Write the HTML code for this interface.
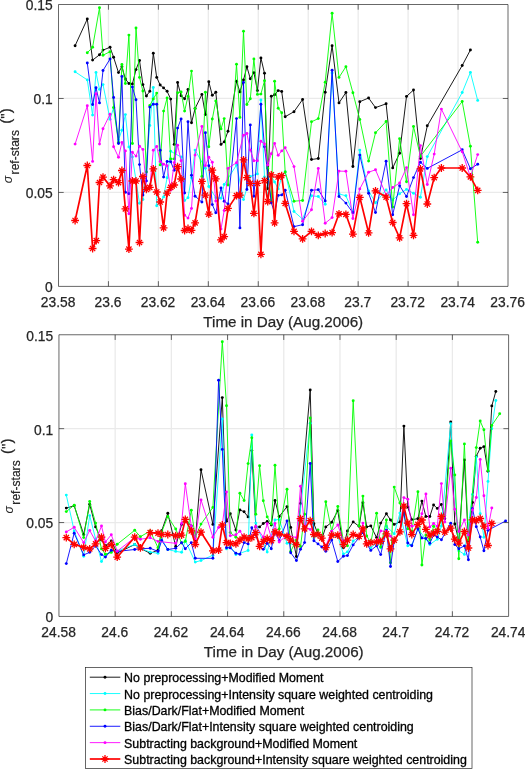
<!DOCTYPE html>
<html><head><meta charset="utf-8"><title>Centroiding precision</title>
<style>html,body{margin:0;padding:0;background:#fff}svg{display:block}</style></head>
<body><svg width="525" height="769" viewBox="0 0 525 769">
<rect width="525" height="769" fill="#fff"/>
<path d="M108.44 4.5V286.4M158.39 4.5V286.4M208.33 4.5V286.4M258.28 4.5V286.4M308.22 4.5V286.4M358.16 4.5V286.4M408.11 4.5V286.4M458.05 4.5V286.4M58.5 192.43H508M58.5 98.47H508" stroke="#eaeaea" stroke-width="1.3" fill="none"/>
<clipPath id="c1"><rect x="58.5" y="4.5" width="449.5" height="281.9"/></clipPath>
<g clip-path="url(#c1)">
<path d="M75.1 45.7L87.3 19L92.6 60.1L99.5 54.8L103 50.1L110.05 47.3L113.6 57.3L118.5 72.6L121.9 66.7L125.4 79L128.9 83.5L132.4 84L136 69.6L139.5 60.5L142.9 84.6L146.4 96L149.8 91.3L153.3 53.2L156.7 77.4L160.2 85L163.6 87.9L167.1 91.3L170.7 99.1L174.2 144.4L177.6 82.5L181.1 95.7L184.6 98.8L188 89.4L191.5 122.8L195.1 108.5L201.9 94.4L205.4 114.6L208.8 81.8L212.3 95.3L215.8 92.3L221 144.4L224.2 141.9L228 131.2L236.5 81.2L239.9 91.9L243.5 80L246.9 66.7L250.3 78.7L253.9 72.6L257.4 90.6L260.9 57.9L264.5 73.3L267.7 188.8L271.3 96.3L274.6 94.8L278.2 90.6L281.7 91.5L285.2 116.7L294 111.7L302.6 99.5L311.5 159.5L318.3 158.5L325.2 92.3L332.1 45.7L339 102.9L345.9 92.5L352.9 166.5L359.8 101.7L368.6 98L375.5 107.6L386.1 103.8L392.7 167.9L399.6 153.2L406.5 96.4L413.5 90L420.4 158.5L427.3 125.8L462.2 65.5L470.4 50" fill="none" stroke="#000000" stroke-width="0.9" stroke-linejoin="round"/>
<g fill="#000000"><circle cx="75.1" cy="45.7" r="1.45"/><circle cx="87.3" cy="19" r="1.45"/><circle cx="92.6" cy="60.1" r="1.45"/><circle cx="99.5" cy="54.8" r="1.45"/><circle cx="103" cy="50.1" r="1.45"/><circle cx="110.05" cy="47.3" r="1.45"/><circle cx="113.6" cy="57.3" r="1.45"/><circle cx="118.5" cy="72.6" r="1.45"/><circle cx="121.9" cy="66.7" r="1.45"/><circle cx="125.4" cy="79" r="1.45"/><circle cx="128.9" cy="83.5" r="1.45"/><circle cx="132.4" cy="84" r="1.45"/><circle cx="136" cy="69.6" r="1.45"/><circle cx="139.5" cy="60.5" r="1.45"/><circle cx="142.9" cy="84.6" r="1.45"/><circle cx="146.4" cy="96" r="1.45"/><circle cx="149.8" cy="91.3" r="1.45"/><circle cx="153.3" cy="53.2" r="1.45"/><circle cx="156.7" cy="77.4" r="1.45"/><circle cx="160.2" cy="85" r="1.45"/><circle cx="163.6" cy="87.9" r="1.45"/><circle cx="167.1" cy="91.3" r="1.45"/><circle cx="170.7" cy="99.1" r="1.45"/><circle cx="174.2" cy="144.4" r="1.45"/><circle cx="177.6" cy="82.5" r="1.45"/><circle cx="181.1" cy="95.7" r="1.45"/><circle cx="184.6" cy="98.8" r="1.45"/><circle cx="188" cy="89.4" r="1.45"/><circle cx="191.5" cy="122.8" r="1.45"/><circle cx="195.1" cy="108.5" r="1.45"/><circle cx="201.9" cy="94.4" r="1.45"/><circle cx="205.4" cy="114.6" r="1.45"/><circle cx="208.8" cy="81.8" r="1.45"/><circle cx="212.3" cy="95.3" r="1.45"/><circle cx="215.8" cy="92.3" r="1.45"/><circle cx="221" cy="144.4" r="1.45"/><circle cx="224.2" cy="141.9" r="1.45"/><circle cx="228" cy="131.2" r="1.45"/><circle cx="236.5" cy="81.2" r="1.45"/><circle cx="239.9" cy="91.9" r="1.45"/><circle cx="243.5" cy="80" r="1.45"/><circle cx="246.9" cy="66.7" r="1.45"/><circle cx="250.3" cy="78.7" r="1.45"/><circle cx="253.9" cy="72.6" r="1.45"/><circle cx="257.4" cy="90.6" r="1.45"/><circle cx="260.9" cy="57.9" r="1.45"/><circle cx="264.5" cy="73.3" r="1.45"/><circle cx="267.7" cy="188.8" r="1.45"/><circle cx="271.3" cy="96.3" r="1.45"/><circle cx="274.6" cy="94.8" r="1.45"/><circle cx="278.2" cy="90.6" r="1.45"/><circle cx="281.7" cy="91.5" r="1.45"/><circle cx="285.2" cy="116.7" r="1.45"/><circle cx="294" cy="111.7" r="1.45"/><circle cx="302.6" cy="99.5" r="1.45"/><circle cx="311.5" cy="159.5" r="1.45"/><circle cx="318.3" cy="158.5" r="1.45"/><circle cx="325.2" cy="92.3" r="1.45"/><circle cx="332.1" cy="45.7" r="1.45"/><circle cx="339" cy="102.9" r="1.45"/><circle cx="345.9" cy="92.5" r="1.45"/><circle cx="352.9" cy="166.5" r="1.45"/><circle cx="359.8" cy="101.7" r="1.45"/><circle cx="368.6" cy="98" r="1.45"/><circle cx="375.5" cy="107.6" r="1.45"/><circle cx="386.1" cy="103.8" r="1.45"/><circle cx="392.7" cy="167.9" r="1.45"/><circle cx="399.6" cy="153.2" r="1.45"/><circle cx="406.5" cy="96.4" r="1.45"/><circle cx="413.5" cy="90" r="1.45"/><circle cx="420.4" cy="158.5" r="1.45"/><circle cx="427.3" cy="125.8" r="1.45"/><circle cx="462.2" cy="65.5" r="1.45"/><circle cx="470.4" cy="50" r="1.45"/></g>
<path d="M75.1 71.8L87.3 79.9L92.6 115.1L96 72.4L99.5 89.4L103 84.6L110.05 119.3L113.6 107.6L118.5 140L121.9 130.2L125.4 114.6L128.9 146.9L132.4 157L139.5 203.3L142.9 199.5L149.8 125.5L153.3 87.5L156.7 205.8L163.6 197L167.1 177.7L170.7 151.3L181.1 157L184.6 200.5L188 197.7L191.5 177.7L195.1 150.1L205.4 168.3L208.8 186.5L215.8 197.7L221 198.3L224.2 184.5L236.5 165.1L243.5 199.6L250.3 176.5L257.4 173.9L260.9 100L264.5 177L267.7 196L271.3 176L274.6 182L278.2 188.9L281.7 177L285.2 172L294 211.5L302.6 219.1L311.5 195.8L318.3 196.5L325.2 204.2L332.1 73L339 193.9L345.9 195.8L352.9 212L359.8 150.1L368.6 190.9L375.5 202.7L386.1 189.9L392.7 200L399.6 193.7L406.5 189.4L413.5 193.3L420.4 197.3L427.3 156.6L462.2 92.5L470.4 72.4L477.7 100.4" fill="none" stroke="#00ffff" stroke-width="0.9" stroke-linejoin="round"/>
<g fill="#00ffff"><circle cx="75.1" cy="71.8" r="1.45"/><circle cx="87.3" cy="79.9" r="1.45"/><circle cx="92.6" cy="115.1" r="1.45"/><circle cx="96" cy="72.4" r="1.45"/><circle cx="99.5" cy="89.4" r="1.45"/><circle cx="103" cy="84.6" r="1.45"/><circle cx="110.05" cy="119.3" r="1.45"/><circle cx="113.6" cy="107.6" r="1.45"/><circle cx="118.5" cy="140" r="1.45"/><circle cx="121.9" cy="130.2" r="1.45"/><circle cx="125.4" cy="114.6" r="1.45"/><circle cx="128.9" cy="146.9" r="1.45"/><circle cx="132.4" cy="157" r="1.45"/><circle cx="139.5" cy="203.3" r="1.45"/><circle cx="142.9" cy="199.5" r="1.45"/><circle cx="149.8" cy="125.5" r="1.45"/><circle cx="153.3" cy="87.5" r="1.45"/><circle cx="156.7" cy="205.8" r="1.45"/><circle cx="163.6" cy="197" r="1.45"/><circle cx="167.1" cy="177.7" r="1.45"/><circle cx="170.7" cy="151.3" r="1.45"/><circle cx="181.1" cy="157" r="1.45"/><circle cx="184.6" cy="200.5" r="1.45"/><circle cx="188" cy="197.7" r="1.45"/><circle cx="191.5" cy="177.7" r="1.45"/><circle cx="195.1" cy="150.1" r="1.45"/><circle cx="205.4" cy="168.3" r="1.45"/><circle cx="208.8" cy="186.5" r="1.45"/><circle cx="215.8" cy="197.7" r="1.45"/><circle cx="221" cy="198.3" r="1.45"/><circle cx="224.2" cy="184.5" r="1.45"/><circle cx="236.5" cy="165.1" r="1.45"/><circle cx="243.5" cy="199.6" r="1.45"/><circle cx="250.3" cy="176.5" r="1.45"/><circle cx="257.4" cy="173.9" r="1.45"/><circle cx="260.9" cy="100" r="1.45"/><circle cx="264.5" cy="177" r="1.45"/><circle cx="267.7" cy="196" r="1.45"/><circle cx="271.3" cy="176" r="1.45"/><circle cx="274.6" cy="182" r="1.45"/><circle cx="278.2" cy="188.9" r="1.45"/><circle cx="281.7" cy="177" r="1.45"/><circle cx="285.2" cy="172" r="1.45"/><circle cx="294" cy="211.5" r="1.45"/><circle cx="302.6" cy="219.1" r="1.45"/><circle cx="311.5" cy="195.8" r="1.45"/><circle cx="318.3" cy="196.5" r="1.45"/><circle cx="325.2" cy="204.2" r="1.45"/><circle cx="332.1" cy="73" r="1.45"/><circle cx="339" cy="193.9" r="1.45"/><circle cx="345.9" cy="195.8" r="1.45"/><circle cx="352.9" cy="212" r="1.45"/><circle cx="359.8" cy="150.1" r="1.45"/><circle cx="368.6" cy="190.9" r="1.45"/><circle cx="375.5" cy="202.7" r="1.45"/><circle cx="386.1" cy="189.9" r="1.45"/><circle cx="392.7" cy="200" r="1.45"/><circle cx="399.6" cy="193.7" r="1.45"/><circle cx="406.5" cy="189.4" r="1.45"/><circle cx="413.5" cy="193.3" r="1.45"/><circle cx="420.4" cy="197.3" r="1.45"/><circle cx="427.3" cy="156.6" r="1.45"/><circle cx="462.2" cy="92.5" r="1.45"/><circle cx="470.4" cy="72.4" r="1.45"/><circle cx="477.7" cy="100.4" r="1.45"/></g>
<path d="M87.3 52.7L92.6 47.3L99.5 7.7L103 55.2L110.05 51.7L113.6 107.6L118.5 142.3L121.9 64.5L125.4 83.5L128.9 35.1L132.4 143.5L136 28L139.5 77.4L142.9 91L146.4 172L149.8 105.4L153.3 99L156.7 93.1L160.2 164.9L163.6 111.1L167.1 98L170.7 158.9L174.2 158.9L177.6 92.8L181.1 91.9L184.6 111.1L188 96.4L191.5 71.1L195.1 108.6L201.9 176.4L205.4 92.3L208.8 146.7L212.3 119L215.8 101L221 128.9L224.2 118.6L228 185L236.5 64.2L239.9 117.4L243.5 31.2L246.9 104.5L250.3 98.8L253.9 58.9L257.4 94.4L260.9 94.1L264.5 80.8L267.7 168.3L271.3 201.5L274.6 81.2L278.2 108.3L281.7 112.7L285.2 171.9L294 201.2L302.6 200.5L311.5 121.8L318.3 118.6L325.2 82.2L332.1 13.3L339 77.4L345.9 66.7L352.9 92.8L359.8 119.5L368.6 161.1L375.5 132.8L386.1 121.5L392.7 207.1L399.6 138.7L406.5 181.7L413.5 126.5L420.4 156.3L462.2 101.5L470.4 146.3L477.7 242.3" fill="none" stroke="#00ff00" stroke-width="0.9" stroke-linejoin="round"/>
<g fill="#00ff00"><circle cx="87.3" cy="52.7" r="1.45"/><circle cx="92.6" cy="47.3" r="1.45"/><circle cx="99.5" cy="7.7" r="1.45"/><circle cx="103" cy="55.2" r="1.45"/><circle cx="110.05" cy="51.7" r="1.45"/><circle cx="113.6" cy="107.6" r="1.45"/><circle cx="118.5" cy="142.3" r="1.45"/><circle cx="121.9" cy="64.5" r="1.45"/><circle cx="125.4" cy="83.5" r="1.45"/><circle cx="128.9" cy="35.1" r="1.45"/><circle cx="132.4" cy="143.5" r="1.45"/><circle cx="136" cy="28" r="1.45"/><circle cx="139.5" cy="77.4" r="1.45"/><circle cx="142.9" cy="91" r="1.45"/><circle cx="146.4" cy="172" r="1.45"/><circle cx="149.8" cy="105.4" r="1.45"/><circle cx="153.3" cy="99" r="1.45"/><circle cx="156.7" cy="93.1" r="1.45"/><circle cx="160.2" cy="164.9" r="1.45"/><circle cx="163.6" cy="111.1" r="1.45"/><circle cx="167.1" cy="98" r="1.45"/><circle cx="170.7" cy="158.9" r="1.45"/><circle cx="174.2" cy="158.9" r="1.45"/><circle cx="177.6" cy="92.8" r="1.45"/><circle cx="181.1" cy="91.9" r="1.45"/><circle cx="184.6" cy="111.1" r="1.45"/><circle cx="188" cy="96.4" r="1.45"/><circle cx="191.5" cy="71.1" r="1.45"/><circle cx="195.1" cy="108.6" r="1.45"/><circle cx="201.9" cy="176.4" r="1.45"/><circle cx="205.4" cy="92.3" r="1.45"/><circle cx="208.8" cy="146.7" r="1.45"/><circle cx="212.3" cy="119" r="1.45"/><circle cx="215.8" cy="101" r="1.45"/><circle cx="221" cy="128.9" r="1.45"/><circle cx="224.2" cy="118.6" r="1.45"/><circle cx="228" cy="185" r="1.45"/><circle cx="236.5" cy="64.2" r="1.45"/><circle cx="239.9" cy="117.4" r="1.45"/><circle cx="243.5" cy="31.2" r="1.45"/><circle cx="246.9" cy="104.5" r="1.45"/><circle cx="250.3" cy="98.8" r="1.45"/><circle cx="253.9" cy="58.9" r="1.45"/><circle cx="257.4" cy="94.4" r="1.45"/><circle cx="260.9" cy="94.1" r="1.45"/><circle cx="264.5" cy="80.8" r="1.45"/><circle cx="267.7" cy="168.3" r="1.45"/><circle cx="271.3" cy="201.5" r="1.45"/><circle cx="274.6" cy="81.2" r="1.45"/><circle cx="278.2" cy="108.3" r="1.45"/><circle cx="281.7" cy="112.7" r="1.45"/><circle cx="285.2" cy="171.9" r="1.45"/><circle cx="294" cy="201.2" r="1.45"/><circle cx="302.6" cy="200.5" r="1.45"/><circle cx="311.5" cy="121.8" r="1.45"/><circle cx="318.3" cy="118.6" r="1.45"/><circle cx="325.2" cy="82.2" r="1.45"/><circle cx="332.1" cy="13.3" r="1.45"/><circle cx="339" cy="77.4" r="1.45"/><circle cx="345.9" cy="66.7" r="1.45"/><circle cx="352.9" cy="92.8" r="1.45"/><circle cx="359.8" cy="119.5" r="1.45"/><circle cx="368.6" cy="161.1" r="1.45"/><circle cx="375.5" cy="132.8" r="1.45"/><circle cx="386.1" cy="121.5" r="1.45"/><circle cx="392.7" cy="207.1" r="1.45"/><circle cx="399.6" cy="138.7" r="1.45"/><circle cx="406.5" cy="181.7" r="1.45"/><circle cx="413.5" cy="126.5" r="1.45"/><circle cx="420.4" cy="156.3" r="1.45"/><circle cx="462.2" cy="101.5" r="1.45"/><circle cx="470.4" cy="146.3" r="1.45"/><circle cx="477.7" cy="242.3" r="1.45"/></g>
<path d="M87.3 63L92.6 104.5L96 87.7L99.5 102.9L103 70.5L110.05 58.9L113.6 97.5L118.5 143.5L121.9 76.4L125.4 192.2L128.9 193.8L132.4 86.9L136 99.8L139.5 164.6L142.9 195.1L146.4 180.9L149.8 107.1L153.3 104.2L156.7 104.2L160.2 150.2L163.6 177.1L167.1 161.5L170.7 161.7L174.2 170.2L177.6 128.1L181.1 118.9L184.6 193L188 121.8L191.5 175.2L195.1 196.2L201.9 202.1L205.4 132.7L208.8 165.8L212.3 204.6L215.8 212.8L221 187.9L224.2 201.2L228 204L236.5 118.6L239.9 227.9L243.5 82.5L246.9 189.5L250.3 124.9L253.9 196.2L260.9 104.2L264.5 146.7L271.3 202.7L274.6 213L278.2 195.4L281.7 194.9L285.2 190.2L294 226.6L302.6 224.7L311.5 190.2L318.3 189.8L325.2 200.9L332.1 70.3L339 196.5L345.9 203.1L352.9 212.8L359.8 155.1L368.6 193.3L375.5 212.5L386.1 161.2L392.7 214.7L399.6 185.7L406.5 196.5L413.5 177.6L420.4 162.3L427.3 168.4L462.2 149.8L470.4 168.7L477.7 164.2" fill="none" stroke="#0000ff" stroke-width="0.9" stroke-linejoin="round"/>
<g fill="#0000ff"><circle cx="87.3" cy="63" r="1.45"/><circle cx="92.6" cy="104.5" r="1.45"/><circle cx="96" cy="87.7" r="1.45"/><circle cx="99.5" cy="102.9" r="1.45"/><circle cx="103" cy="70.5" r="1.45"/><circle cx="110.05" cy="58.9" r="1.45"/><circle cx="113.6" cy="97.5" r="1.45"/><circle cx="118.5" cy="143.5" r="1.45"/><circle cx="121.9" cy="76.4" r="1.45"/><circle cx="125.4" cy="192.2" r="1.45"/><circle cx="128.9" cy="193.8" r="1.45"/><circle cx="132.4" cy="86.9" r="1.45"/><circle cx="136" cy="99.8" r="1.45"/><circle cx="139.5" cy="164.6" r="1.45"/><circle cx="142.9" cy="195.1" r="1.45"/><circle cx="146.4" cy="180.9" r="1.45"/><circle cx="149.8" cy="107.1" r="1.45"/><circle cx="153.3" cy="104.2" r="1.45"/><circle cx="156.7" cy="104.2" r="1.45"/><circle cx="160.2" cy="150.2" r="1.45"/><circle cx="163.6" cy="177.1" r="1.45"/><circle cx="167.1" cy="161.5" r="1.45"/><circle cx="170.7" cy="161.7" r="1.45"/><circle cx="174.2" cy="170.2" r="1.45"/><circle cx="177.6" cy="128.1" r="1.45"/><circle cx="181.1" cy="118.9" r="1.45"/><circle cx="184.6" cy="193" r="1.45"/><circle cx="188" cy="121.8" r="1.45"/><circle cx="191.5" cy="175.2" r="1.45"/><circle cx="195.1" cy="196.2" r="1.45"/><circle cx="201.9" cy="202.1" r="1.45"/><circle cx="205.4" cy="132.7" r="1.45"/><circle cx="208.8" cy="165.8" r="1.45"/><circle cx="212.3" cy="204.6" r="1.45"/><circle cx="215.8" cy="212.8" r="1.45"/><circle cx="221" cy="187.9" r="1.45"/><circle cx="224.2" cy="201.2" r="1.45"/><circle cx="228" cy="204" r="1.45"/><circle cx="236.5" cy="118.6" r="1.45"/><circle cx="239.9" cy="227.9" r="1.45"/><circle cx="243.5" cy="82.5" r="1.45"/><circle cx="246.9" cy="189.5" r="1.45"/><circle cx="250.3" cy="124.9" r="1.45"/><circle cx="253.9" cy="196.2" r="1.45"/><circle cx="260.9" cy="104.2" r="1.45"/><circle cx="264.5" cy="146.7" r="1.45"/><circle cx="271.3" cy="202.7" r="1.45"/><circle cx="274.6" cy="213" r="1.45"/><circle cx="278.2" cy="195.4" r="1.45"/><circle cx="281.7" cy="194.9" r="1.45"/><circle cx="285.2" cy="190.2" r="1.45"/><circle cx="294" cy="226.6" r="1.45"/><circle cx="302.6" cy="224.7" r="1.45"/><circle cx="311.5" cy="190.2" r="1.45"/><circle cx="318.3" cy="189.8" r="1.45"/><circle cx="325.2" cy="200.9" r="1.45"/><circle cx="332.1" cy="70.3" r="1.45"/><circle cx="339" cy="196.5" r="1.45"/><circle cx="345.9" cy="203.1" r="1.45"/><circle cx="352.9" cy="212.8" r="1.45"/><circle cx="359.8" cy="155.1" r="1.45"/><circle cx="368.6" cy="193.3" r="1.45"/><circle cx="375.5" cy="212.5" r="1.45"/><circle cx="386.1" cy="161.2" r="1.45"/><circle cx="392.7" cy="214.7" r="1.45"/><circle cx="399.6" cy="185.7" r="1.45"/><circle cx="406.5" cy="196.5" r="1.45"/><circle cx="413.5" cy="177.6" r="1.45"/><circle cx="420.4" cy="162.3" r="1.45"/><circle cx="427.3" cy="168.4" r="1.45"/><circle cx="462.2" cy="149.8" r="1.45"/><circle cx="470.4" cy="168.7" r="1.45"/><circle cx="477.7" cy="164.2" r="1.45"/></g>
<path d="M75.1 144.1L87.3 105.8L92.6 161.4L96 93.8L99.5 144.1L103 128.7L110.05 114.2L113.6 146.7L118.5 157.2L121.9 142.5L125.4 150.9L128.9 213.7L132.4 152.2L136 156.1L139.5 146.3L142.9 149.4L146.4 188L149.8 187L153.3 150.3L156.7 146.5L160.2 161.6L163.6 164.3L167.1 165.8L170.7 190L174.2 162.6L177.6 145.3L181.1 160.7L184.6 215.2L188 218.1L191.5 208.4L195.1 155.1L201.9 126.5L205.4 165.7L208.8 157.3L212.3 162.3L215.8 200.9L221 229.1L224.2 210.5L228 168.4L236.5 162.7L243.5 135.2L246.9 133.5L250.3 150.1L253.9 160.7L257.4 160.7L260.9 141.3L264.5 144L267.7 164.9L271.3 153.8L274.6 143.5L278.2 155.3L281.7 150.9L285.2 147.8L294 166.6L302.6 221.3L311.5 209.7L318.3 168.4L325.2 223.2L332.1 217.6L339 171.1L345.9 171.3L352.9 218.5L359.8 188.9L368.6 172.2L375.5 169.8L386.1 195L392.7 187.5L399.6 183L406.5 167.6L413.5 214.7L420.4 145.6L427.3 184.5L434.2 154.1L441.4 109.1L462.2 151.8L470.4 176.9L477.7 154.6" fill="none" stroke="#ff00ff" stroke-width="0.9" stroke-linejoin="round"/>
<g fill="#ff00ff"><circle cx="75.1" cy="144.1" r="1.45"/><circle cx="87.3" cy="105.8" r="1.45"/><circle cx="92.6" cy="161.4" r="1.45"/><circle cx="96" cy="93.8" r="1.45"/><circle cx="99.5" cy="144.1" r="1.45"/><circle cx="103" cy="128.7" r="1.45"/><circle cx="110.05" cy="114.2" r="1.45"/><circle cx="113.6" cy="146.7" r="1.45"/><circle cx="118.5" cy="157.2" r="1.45"/><circle cx="121.9" cy="142.5" r="1.45"/><circle cx="125.4" cy="150.9" r="1.45"/><circle cx="128.9" cy="213.7" r="1.45"/><circle cx="132.4" cy="152.2" r="1.45"/><circle cx="136" cy="156.1" r="1.45"/><circle cx="139.5" cy="146.3" r="1.45"/><circle cx="142.9" cy="149.4" r="1.45"/><circle cx="146.4" cy="188" r="1.45"/><circle cx="149.8" cy="187" r="1.45"/><circle cx="153.3" cy="150.3" r="1.45"/><circle cx="156.7" cy="146.5" r="1.45"/><circle cx="160.2" cy="161.6" r="1.45"/><circle cx="163.6" cy="164.3" r="1.45"/><circle cx="167.1" cy="165.8" r="1.45"/><circle cx="170.7" cy="190" r="1.45"/><circle cx="174.2" cy="162.6" r="1.45"/><circle cx="177.6" cy="145.3" r="1.45"/><circle cx="181.1" cy="160.7" r="1.45"/><circle cx="184.6" cy="215.2" r="1.45"/><circle cx="188" cy="218.1" r="1.45"/><circle cx="191.5" cy="208.4" r="1.45"/><circle cx="195.1" cy="155.1" r="1.45"/><circle cx="201.9" cy="126.5" r="1.45"/><circle cx="205.4" cy="165.7" r="1.45"/><circle cx="208.8" cy="157.3" r="1.45"/><circle cx="212.3" cy="162.3" r="1.45"/><circle cx="215.8" cy="200.9" r="1.45"/><circle cx="221" cy="229.1" r="1.45"/><circle cx="224.2" cy="210.5" r="1.45"/><circle cx="228" cy="168.4" r="1.45"/><circle cx="236.5" cy="162.7" r="1.45"/><circle cx="243.5" cy="135.2" r="1.45"/><circle cx="246.9" cy="133.5" r="1.45"/><circle cx="250.3" cy="150.1" r="1.45"/><circle cx="253.9" cy="160.7" r="1.45"/><circle cx="257.4" cy="160.7" r="1.45"/><circle cx="260.9" cy="141.3" r="1.45"/><circle cx="264.5" cy="144" r="1.45"/><circle cx="267.7" cy="164.9" r="1.45"/><circle cx="271.3" cy="153.8" r="1.45"/><circle cx="274.6" cy="143.5" r="1.45"/><circle cx="278.2" cy="155.3" r="1.45"/><circle cx="281.7" cy="150.9" r="1.45"/><circle cx="285.2" cy="147.8" r="1.45"/><circle cx="294" cy="166.6" r="1.45"/><circle cx="302.6" cy="221.3" r="1.45"/><circle cx="311.5" cy="209.7" r="1.45"/><circle cx="318.3" cy="168.4" r="1.45"/><circle cx="325.2" cy="223.2" r="1.45"/><circle cx="332.1" cy="217.6" r="1.45"/><circle cx="339" cy="171.1" r="1.45"/><circle cx="345.9" cy="171.3" r="1.45"/><circle cx="352.9" cy="218.5" r="1.45"/><circle cx="359.8" cy="188.9" r="1.45"/><circle cx="368.6" cy="172.2" r="1.45"/><circle cx="375.5" cy="169.8" r="1.45"/><circle cx="386.1" cy="195" r="1.45"/><circle cx="392.7" cy="187.5" r="1.45"/><circle cx="399.6" cy="183" r="1.45"/><circle cx="406.5" cy="167.6" r="1.45"/><circle cx="413.5" cy="214.7" r="1.45"/><circle cx="420.4" cy="145.6" r="1.45"/><circle cx="427.3" cy="184.5" r="1.45"/><circle cx="434.2" cy="154.1" r="1.45"/><circle cx="441.4" cy="109.1" r="1.45"/><circle cx="462.2" cy="151.8" r="1.45"/><circle cx="470.4" cy="176.9" r="1.45"/><circle cx="477.7" cy="154.6" r="1.45"/></g>
<path d="M75.1 220.5L87.3 165.5L92.6 248.5L96.3 240.7L99.5 182.5L103 177.1L110.05 185.9L113.6 179.6L118.5 182.7L121.9 170.5L125.4 208.9L128.9 249.1L132.4 181L136 181L139.5 242.5L142.9 176.5L146.4 189.3L149.8 187.4L153.3 168.8L156.7 192L160.2 202L163.6 227.8L167.1 193.1L170.7 187.4L174.2 185L177.6 166.7L181.1 179L184.6 230.5L188 228.5L191.5 230.4L195.1 222.9L201.9 181.4L205.4 195.2L208.8 214.1L212.3 170.1L215.8 178.9L221 239.8L224.2 236.7L228 208.4L236.5 195.6L239.9 195.2L243.5 159.8L246.9 177.6L250.3 183.3L253.9 213.4L257.4 183.3L260.9 254.3L264.5 180.7L267.7 201.7L271.3 174.8L274.6 222.9L278.2 177L281.7 175.7L285.2 203.4L294 231.4L302.6 238.9L311.5 231.4L318.3 235.4L325.2 233.5L332.1 232.7L339 213.8L345.9 214.3L352.9 234.2L359.8 197.3L368.6 232.9L375.5 190.8L386.1 197.1L392.7 222.5L399.6 237.9L406.5 203.7L413.5 235.4L420.4 168.8L427.3 204L434.2 177.6L441.4 168L462.2 168L470.4 176.9L477.7 190.3" fill="none" stroke="#ff0000" stroke-width="1.7" stroke-linejoin="round"/>
<path d="M71.2 220.5L79 220.5M72.48 217.88L77.72 223.12M75.1 216.6L75.1 224.4M77.72 217.88L72.48 223.12M83.4 165.5L91.2 165.5M84.68 162.88L89.92 168.12M87.3 161.6L87.3 169.4M89.92 162.88L84.68 168.12M88.7 248.5L96.5 248.5M89.98 245.88L95.22 251.12M92.6 244.6L92.6 252.4M95.22 245.88L89.98 251.12M92.4 240.7L100.2 240.7M93.68 238.08L98.92 243.32M96.3 236.8L96.3 244.6M98.92 238.08L93.68 243.32M95.6 182.5L103.4 182.5M96.88 179.88L102.12 185.12M99.5 178.6L99.5 186.4M102.12 179.88L96.88 185.12M99.1 177.1L106.9 177.1M100.38 174.48L105.62 179.72M103 173.2L103 181M105.62 174.48L100.38 179.72M106.15 185.9L113.95 185.9M107.43 183.28L112.67 188.52M110.05 182L110.05 189.8M112.67 183.28L107.43 188.52M109.7 179.6L117.5 179.6M110.98 176.98L116.22 182.22M113.6 175.7L113.6 183.5M116.22 176.98L110.98 182.22M114.6 182.7L122.4 182.7M115.88 180.08L121.12 185.32M118.5 178.8L118.5 186.6M121.12 180.08L115.88 185.32M118 170.5L125.8 170.5M119.28 167.88L124.52 173.12M121.9 166.6L121.9 174.4M124.52 167.88L119.28 173.12M121.5 208.9L129.3 208.9M122.78 206.28L128.02 211.52M125.4 205L125.4 212.8M128.02 206.28L122.78 211.52M125 249.1L132.8 249.1M126.28 246.48L131.52 251.72M128.9 245.2L128.9 253M131.52 246.48L126.28 251.72M128.5 181L136.3 181M129.78 178.38L135.02 183.62M132.4 177.1L132.4 184.9M135.02 178.38L129.78 183.62M132.1 181L139.9 181M133.38 178.38L138.62 183.62M136 177.1L136 184.9M138.62 178.38L133.38 183.62M135.6 242.5L143.4 242.5M136.88 239.88L142.12 245.12M139.5 238.6L139.5 246.4M142.12 239.88L136.88 245.12M139 176.5L146.8 176.5M140.28 173.88L145.52 179.12M142.9 172.6L142.9 180.4M145.52 173.88L140.28 179.12M142.5 189.3L150.3 189.3M143.78 186.68L149.02 191.92M146.4 185.4L146.4 193.2M149.02 186.68L143.78 191.92M145.9 187.4L153.7 187.4M147.18 184.78L152.42 190.02M149.8 183.5L149.8 191.3M152.42 184.78L147.18 190.02M149.4 168.8L157.2 168.8M150.68 166.18L155.92 171.42M153.3 164.9L153.3 172.7M155.92 166.18L150.68 171.42M152.8 192L160.6 192M154.08 189.38L159.32 194.62M156.7 188.1L156.7 195.9M159.32 189.38L154.08 194.62M156.3 202L164.1 202M157.58 199.38L162.82 204.62M160.2 198.1L160.2 205.9M162.82 199.38L157.58 204.62M159.7 227.8L167.5 227.8M160.98 225.18L166.22 230.42M163.6 223.9L163.6 231.7M166.22 225.18L160.98 230.42M163.2 193.1L171 193.1M164.48 190.48L169.72 195.72M167.1 189.2L167.1 197M169.72 190.48L164.48 195.72M166.8 187.4L174.6 187.4M168.08 184.78L173.32 190.02M170.7 183.5L170.7 191.3M173.32 184.78L168.08 190.02M170.3 185L178.1 185M171.58 182.38L176.82 187.62M174.2 181.1L174.2 188.9M176.82 182.38L171.58 187.62M173.7 166.7L181.5 166.7M174.98 164.08L180.22 169.32M177.6 162.8L177.6 170.6M180.22 164.08L174.98 169.32M177.2 179L185 179M178.48 176.38L183.72 181.62M181.1 175.1L181.1 182.9M183.72 176.38L178.48 181.62M180.7 230.5L188.5 230.5M181.98 227.88L187.22 233.12M184.6 226.6L184.6 234.4M187.22 227.88L181.98 233.12M184.1 228.5L191.9 228.5M185.38 225.88L190.62 231.12M188 224.6L188 232.4M190.62 225.88L185.38 231.12M187.6 230.4L195.4 230.4M188.88 227.78L194.12 233.02M191.5 226.5L191.5 234.3M194.12 227.78L188.88 233.02M191.2 222.9L199 222.9M192.48 220.28L197.72 225.52M195.1 219L195.1 226.8M197.72 220.28L192.48 225.52M198 181.4L205.8 181.4M199.28 178.78L204.52 184.02M201.9 177.5L201.9 185.3M204.52 178.78L199.28 184.02M201.5 195.2L209.3 195.2M202.78 192.58L208.02 197.82M205.4 191.3L205.4 199.1M208.02 192.58L202.78 197.82M204.9 214.1L212.7 214.1M206.18 211.48L211.42 216.72M208.8 210.2L208.8 218M211.42 211.48L206.18 216.72M208.4 170.1L216.2 170.1M209.68 167.48L214.92 172.72M212.3 166.2L212.3 174M214.92 167.48L209.68 172.72M211.9 178.9L219.7 178.9M213.18 176.28L218.42 181.52M215.8 175L215.8 182.8M218.42 176.28L213.18 181.52M217.1 239.8L224.9 239.8M218.38 237.18L223.62 242.42M221 235.9L221 243.7M223.62 237.18L218.38 242.42M220.3 236.7L228.1 236.7M221.58 234.08L226.82 239.32M224.2 232.8L224.2 240.6M226.82 234.08L221.58 239.32M224.1 208.4L231.9 208.4M225.38 205.78L230.62 211.02M228 204.5L228 212.3M230.62 205.78L225.38 211.02M232.6 195.6L240.4 195.6M233.88 192.98L239.12 198.22M236.5 191.7L236.5 199.5M239.12 192.98L233.88 198.22M236 195.2L243.8 195.2M237.28 192.58L242.52 197.82M239.9 191.3L239.9 199.1M242.52 192.58L237.28 197.82M239.6 159.8L247.4 159.8M240.88 157.18L246.12 162.42M243.5 155.9L243.5 163.7M246.12 157.18L240.88 162.42M243 177.6L250.8 177.6M244.28 174.98L249.52 180.22M246.9 173.7L246.9 181.5M249.52 174.98L244.28 180.22M246.4 183.3L254.2 183.3M247.68 180.68L252.92 185.92M250.3 179.4L250.3 187.2M252.92 180.68L247.68 185.92M250 213.4L257.8 213.4M251.28 210.78L256.52 216.02M253.9 209.5L253.9 217.3M256.52 210.78L251.28 216.02M253.5 183.3L261.3 183.3M254.78 180.68L260.02 185.92M257.4 179.4L257.4 187.2M260.02 180.68L254.78 185.92M257 254.3L264.8 254.3M258.28 251.68L263.52 256.92M260.9 250.4L260.9 258.2M263.52 251.68L258.28 256.92M260.6 180.7L268.4 180.7M261.88 178.08L267.12 183.32M264.5 176.8L264.5 184.6M267.12 178.08L261.88 183.32M263.8 201.7L271.6 201.7M265.08 199.08L270.32 204.32M267.7 197.8L267.7 205.6M270.32 199.08L265.08 204.32M267.4 174.8L275.2 174.8M268.68 172.18L273.92 177.42M271.3 170.9L271.3 178.7M273.92 172.18L268.68 177.42M270.7 222.9L278.5 222.9M271.98 220.28L277.22 225.52M274.6 219L274.6 226.8M277.22 220.28L271.98 225.52M274.3 177L282.1 177M275.58 174.38L280.82 179.62M278.2 173.1L278.2 180.9M280.82 174.38L275.58 179.62M277.8 175.7L285.6 175.7M279.08 173.08L284.32 178.32M281.7 171.8L281.7 179.6M284.32 173.08L279.08 178.32M281.3 203.4L289.1 203.4M282.58 200.78L287.82 206.02M285.2 199.5L285.2 207.3M287.82 200.78L282.58 206.02M290.1 231.4L297.9 231.4M291.38 228.78L296.62 234.02M294 227.5L294 235.3M296.62 228.78L291.38 234.02M298.7 238.9L306.5 238.9M299.98 236.28L305.22 241.52M302.6 235L302.6 242.8M305.22 236.28L299.98 241.52M307.6 231.4L315.4 231.4M308.88 228.78L314.12 234.02M311.5 227.5L311.5 235.3M314.12 228.78L308.88 234.02M314.4 235.4L322.2 235.4M315.68 232.78L320.92 238.02M318.3 231.5L318.3 239.3M320.92 232.78L315.68 238.02M321.3 233.5L329.1 233.5M322.58 230.88L327.82 236.12M325.2 229.6L325.2 237.4M327.82 230.88L322.58 236.12M328.2 232.7L336 232.7M329.48 230.08L334.72 235.32M332.1 228.8L332.1 236.6M334.72 230.08L329.48 235.32M335.1 213.8L342.9 213.8M336.38 211.18L341.62 216.42M339 209.9L339 217.7M341.62 211.18L336.38 216.42M342 214.3L349.8 214.3M343.28 211.68L348.52 216.92M345.9 210.4L345.9 218.2M348.52 211.68L343.28 216.92M349 234.2L356.8 234.2M350.28 231.58L355.52 236.82M352.9 230.3L352.9 238.1M355.52 231.58L350.28 236.82M355.9 197.3L363.7 197.3M357.18 194.68L362.42 199.92M359.8 193.4L359.8 201.2M362.42 194.68L357.18 199.92M364.7 232.9L372.5 232.9M365.98 230.28L371.22 235.52M368.6 229L368.6 236.8M371.22 230.28L365.98 235.52M371.6 190.8L379.4 190.8M372.88 188.18L378.12 193.42M375.5 186.9L375.5 194.7M378.12 188.18L372.88 193.42M382.2 197.1L390 197.1M383.48 194.48L388.72 199.72M386.1 193.2L386.1 201M388.72 194.48L383.48 199.72M388.8 222.5L396.6 222.5M390.08 219.88L395.32 225.12M392.7 218.6L392.7 226.4M395.32 219.88L390.08 225.12M395.7 237.9L403.5 237.9M396.98 235.28L402.22 240.52M399.6 234L399.6 241.8M402.22 235.28L396.98 240.52M402.6 203.7L410.4 203.7M403.88 201.08L409.12 206.32M406.5 199.8L406.5 207.6M409.12 201.08L403.88 206.32M409.6 235.4L417.4 235.4M410.88 232.78L416.12 238.02M413.5 231.5L413.5 239.3M416.12 232.78L410.88 238.02M416.5 168.8L424.3 168.8M417.78 166.18L423.02 171.42M420.4 164.9L420.4 172.7M423.02 166.18L417.78 171.42M423.4 204L431.2 204M424.68 201.38L429.92 206.62M427.3 200.1L427.3 207.9M429.92 201.38L424.68 206.62M430.3 177.6L438.1 177.6M431.58 174.98L436.82 180.22M434.2 173.7L434.2 181.5M436.82 174.98L431.58 180.22M437.5 168L445.3 168M438.78 165.38L444.02 170.62M441.4 164.1L441.4 171.9M444.02 165.38L438.78 170.62M458.3 168L466.1 168M459.58 165.38L464.82 170.62M462.2 164.1L462.2 171.9M464.82 165.38L459.58 170.62M466.5 176.9L474.3 176.9M467.78 174.28L473.02 179.52M470.4 173L470.4 180.8M473.02 174.28L467.78 179.52M473.8 190.3L481.6 190.3M475.08 187.68L480.32 192.92M477.7 186.4L477.7 194.2M480.32 187.68L475.08 192.92" fill="none" stroke="#ff0000" stroke-width="1.3"/>
</g>
<path d="M58.5 4.5H508V286.4H58.5ZM108.44 286.4v-5.2M108.44 4.5v5.2M158.39 286.4v-5.2M158.39 4.5v5.2M208.33 286.4v-5.2M208.33 4.5v5.2M258.28 286.4v-5.2M258.28 4.5v5.2M308.22 286.4v-5.2M308.22 4.5v5.2M358.16 286.4v-5.2M358.16 4.5v5.2M408.11 286.4v-5.2M408.11 4.5v5.2M458.05 286.4v-5.2M458.05 4.5v5.2M58.5 192.43h5.2M508 192.43h-5.2M58.5 98.47h5.2M508 98.47h-5.2" stroke="#262626" stroke-width="0.7" fill="none"/>
<g font-family='"Liberation Sans", Arial, Helvetica, sans-serif' font-size="13.8" fill="#262626" stroke="#262626" stroke-width="0.25">
<text x="58.1" y="306.8" text-anchor="middle">23.58</text>
<text x="108.04" y="306.8" text-anchor="middle">23.6</text>
<text x="157.99" y="306.8" text-anchor="middle">23.62</text>
<text x="207.93" y="306.8" text-anchor="middle">23.64</text>
<text x="257.88" y="306.8" text-anchor="middle">23.66</text>
<text x="307.82" y="306.8" text-anchor="middle">23.68</text>
<text x="357.76" y="306.8" text-anchor="middle">23.7</text>
<text x="407.71" y="306.8" text-anchor="middle">23.72</text>
<text x="457.65" y="306.8" text-anchor="middle">23.74</text>
<text x="507.6" y="306.8" text-anchor="middle">23.76</text>
<text x="52.7" y="292.25" text-anchor="end">0</text>
<text x="52.7" y="198.28" text-anchor="end">0.05</text>
<text x="52.7" y="104.32" text-anchor="end">0.1</text>
<text x="52.7" y="10.35" text-anchor="end">0.15</text>
</g>
<text x="283.25" y="326.5" text-anchor="middle" font-family='"Liberation Sans", Arial, Helvetica, sans-serif' font-size="15.2" fill="#262626" stroke="#262626" stroke-width="0.25">Time in Day (Aug.2006)</text>
<g font-family='"Liberation Sans", Arial, Helvetica, sans-serif' fill="#262626" stroke="#262626" stroke-width="0.2">
<text transform="translate(11.7 183.2) rotate(-90)" font-size="12.3" font-style="italic" stroke="none">σ</text>
<text transform="translate(19 174.4) rotate(-90)" font-size="12.1">ref-stars</text>
<text transform="translate(11.2 123.7) rotate(-90)" font-size="15.2">(&quot;)</text>
</g>
<path d="M115.16 334.75V616.45M171.36 334.75V616.45M227.57 334.75V616.45M283.77 334.75V616.45M339.98 334.75V616.45M396.19 334.75V616.45M452.39 334.75V616.45M58.95 522.55H508.6M58.95 428.65H508.6" stroke="#eaeaea" stroke-width="1.3" fill="none"/>
<clipPath id="c2"><rect x="58.95" y="334.75" width="449.65" height="281.7"/></clipPath>
<g clip-path="url(#c2)">
<path d="M66.3 508.1L74.2 505.8L83.7 534.5L89.7 504.3L95.6 526.9L101.5 540L105.4 545.8L111.3 541L117.2 553L134.7 544.5L140.4 548.3L150.2 553.3L158 550.2L161.7 530.7L167.8 513.3L175.7 546.4L181.6 524.4L185.3 519.5L191.3 526L195.3 541L201 469.8L212.9 524.4L222.3 397.6L226.5 521.3L230.3 513.7L235.9 530.1L239.9 509.9L244.1 511.8L248.1 516.9L251.8 450.6L255.8 527L259.6 526.9L263.3 523.5L267.2 521.5L271.3 525L275 500.5L279.2 516.5L287 506.8L290.7 527.4L296.4 556.5L300.5 503.4L310.2 390L313.9 523.8L318 534L321.8 539L325.8 526.9L331.7 522.3L337.8 510.6L343.4 547.7L347.4 530.9L353.2 521.9L359.1 526.3L362.9 502.8L366.7 526.9L370.8 525.9L376.6 537.6L380.7 523.1L386.4 513.7L390.5 520L394.2 524.4L399.9 521.9L403.9 426.1L407.8 507L411.8 519.6L417.9 518.7L421.9 501.1L425.9 516.5L429.8 516.5L433.6 504.9L437.3 508.4L441.4 504.4L444.8 518.8L450.7 421.9L454.8 524L458.8 541L464.4 459.9L468.4 541L472.5 502.5L476.3 456.2L480.2 448.3L483.9 446.6L488 471.3L491.8 405.9L495.8 391.5" fill="none" stroke="#000000" stroke-width="0.9" stroke-linejoin="round"/>
<g fill="#000000"><circle cx="66.3" cy="508.1" r="1.45"/><circle cx="74.2" cy="505.8" r="1.45"/><circle cx="83.7" cy="534.5" r="1.45"/><circle cx="89.7" cy="504.3" r="1.45"/><circle cx="95.6" cy="526.9" r="1.45"/><circle cx="101.5" cy="540" r="1.45"/><circle cx="105.4" cy="545.8" r="1.45"/><circle cx="111.3" cy="541" r="1.45"/><circle cx="117.2" cy="553" r="1.45"/><circle cx="134.7" cy="544.5" r="1.45"/><circle cx="140.4" cy="548.3" r="1.45"/><circle cx="150.2" cy="553.3" r="1.45"/><circle cx="158" cy="550.2" r="1.45"/><circle cx="161.7" cy="530.7" r="1.45"/><circle cx="167.8" cy="513.3" r="1.45"/><circle cx="175.7" cy="546.4" r="1.45"/><circle cx="181.6" cy="524.4" r="1.45"/><circle cx="185.3" cy="519.5" r="1.45"/><circle cx="191.3" cy="526" r="1.45"/><circle cx="195.3" cy="541" r="1.45"/><circle cx="201" cy="469.8" r="1.45"/><circle cx="212.9" cy="524.4" r="1.45"/><circle cx="222.3" cy="397.6" r="1.45"/><circle cx="226.5" cy="521.3" r="1.45"/><circle cx="230.3" cy="513.7" r="1.45"/><circle cx="235.9" cy="530.1" r="1.45"/><circle cx="239.9" cy="509.9" r="1.45"/><circle cx="244.1" cy="511.8" r="1.45"/><circle cx="248.1" cy="516.9" r="1.45"/><circle cx="251.8" cy="450.6" r="1.45"/><circle cx="255.8" cy="527" r="1.45"/><circle cx="259.6" cy="526.9" r="1.45"/><circle cx="263.3" cy="523.5" r="1.45"/><circle cx="267.2" cy="521.5" r="1.45"/><circle cx="271.3" cy="525" r="1.45"/><circle cx="275" cy="500.5" r="1.45"/><circle cx="279.2" cy="516.5" r="1.45"/><circle cx="287" cy="506.8" r="1.45"/><circle cx="290.7" cy="527.4" r="1.45"/><circle cx="296.4" cy="556.5" r="1.45"/><circle cx="300.5" cy="503.4" r="1.45"/><circle cx="310.2" cy="390" r="1.45"/><circle cx="313.9" cy="523.8" r="1.45"/><circle cx="318" cy="534" r="1.45"/><circle cx="321.8" cy="539" r="1.45"/><circle cx="325.8" cy="526.9" r="1.45"/><circle cx="331.7" cy="522.3" r="1.45"/><circle cx="337.8" cy="510.6" r="1.45"/><circle cx="343.4" cy="547.7" r="1.45"/><circle cx="347.4" cy="530.9" r="1.45"/><circle cx="353.2" cy="521.9" r="1.45"/><circle cx="359.1" cy="526.3" r="1.45"/><circle cx="362.9" cy="502.8" r="1.45"/><circle cx="366.7" cy="526.9" r="1.45"/><circle cx="370.8" cy="525.9" r="1.45"/><circle cx="376.6" cy="537.6" r="1.45"/><circle cx="380.7" cy="523.1" r="1.45"/><circle cx="386.4" cy="513.7" r="1.45"/><circle cx="390.5" cy="520" r="1.45"/><circle cx="394.2" cy="524.4" r="1.45"/><circle cx="399.9" cy="521.9" r="1.45"/><circle cx="403.9" cy="426.1" r="1.45"/><circle cx="407.8" cy="507" r="1.45"/><circle cx="411.8" cy="519.6" r="1.45"/><circle cx="417.9" cy="518.7" r="1.45"/><circle cx="421.9" cy="501.1" r="1.45"/><circle cx="425.9" cy="516.5" r="1.45"/><circle cx="429.8" cy="516.5" r="1.45"/><circle cx="433.6" cy="504.9" r="1.45"/><circle cx="437.3" cy="508.4" r="1.45"/><circle cx="441.4" cy="504.4" r="1.45"/><circle cx="444.8" cy="518.8" r="1.45"/><circle cx="450.7" cy="421.9" r="1.45"/><circle cx="454.8" cy="524" r="1.45"/><circle cx="458.8" cy="541" r="1.45"/><circle cx="464.4" cy="459.9" r="1.45"/><circle cx="468.4" cy="541" r="1.45"/><circle cx="472.5" cy="502.5" r="1.45"/><circle cx="476.3" cy="456.2" r="1.45"/><circle cx="480.2" cy="448.3" r="1.45"/><circle cx="483.9" cy="446.6" r="1.45"/><circle cx="488" cy="471.3" r="1.45"/><circle cx="491.8" cy="405.9" r="1.45"/><circle cx="495.8" cy="391.5" r="1.45"/></g>
<path d="M66.3 495.1L74.2 530.9L83.7 556.2L89.7 515.6L95.6 539L101.5 561.5L105.4 555L111.3 551L117.2 551L134.7 544.5L140.4 548.3L150.2 552.1L158 553.3L161.7 539L167.8 549.5L175.7 551.4L181.6 552.3L185.3 540.7L195.3 562.1L201 560.5L212.9 555.2L222.3 419L226.5 548.9L230.3 546.4L235.9 554.6L248.1 550.5L251.8 435L255.8 523.1L267.2 552.1L275 520L279.2 519.4L287 543.3L296.4 545L310.2 423.3L313.9 538L318 535L321.8 538.5L325.8 547L331.7 536L337.8 536.3L343.4 554L347.4 552L353.2 541L359.1 537L362.9 530L366.7 544L370.8 547.7L376.6 543L380.7 547.7L386.4 526.3L394.2 533.8L399.9 513.1L407.8 545.8L411.8 545L417.9 528.8L429.8 544.5L437.3 539.2L441.4 526L450.7 423.6L458.8 550.7L464.4 554.4L472.5 494.5L476.3 456.9L480.2 513.7L483.9 537.3L488 481.4L491.8 428.8L495.8 400.5" fill="none" stroke="#00ffff" stroke-width="0.9" stroke-linejoin="round"/>
<g fill="#00ffff"><circle cx="66.3" cy="495.1" r="1.45"/><circle cx="74.2" cy="530.9" r="1.45"/><circle cx="83.7" cy="556.2" r="1.45"/><circle cx="89.7" cy="515.6" r="1.45"/><circle cx="95.6" cy="539" r="1.45"/><circle cx="101.5" cy="561.5" r="1.45"/><circle cx="105.4" cy="555" r="1.45"/><circle cx="111.3" cy="551" r="1.45"/><circle cx="117.2" cy="551" r="1.45"/><circle cx="134.7" cy="544.5" r="1.45"/><circle cx="140.4" cy="548.3" r="1.45"/><circle cx="150.2" cy="552.1" r="1.45"/><circle cx="158" cy="553.3" r="1.45"/><circle cx="161.7" cy="539" r="1.45"/><circle cx="167.8" cy="549.5" r="1.45"/><circle cx="175.7" cy="551.4" r="1.45"/><circle cx="181.6" cy="552.3" r="1.45"/><circle cx="185.3" cy="540.7" r="1.45"/><circle cx="195.3" cy="562.1" r="1.45"/><circle cx="201" cy="560.5" r="1.45"/><circle cx="212.9" cy="555.2" r="1.45"/><circle cx="222.3" cy="419" r="1.45"/><circle cx="226.5" cy="548.9" r="1.45"/><circle cx="230.3" cy="546.4" r="1.45"/><circle cx="235.9" cy="554.6" r="1.45"/><circle cx="248.1" cy="550.5" r="1.45"/><circle cx="251.8" cy="435" r="1.45"/><circle cx="255.8" cy="523.1" r="1.45"/><circle cx="267.2" cy="552.1" r="1.45"/><circle cx="275" cy="520" r="1.45"/><circle cx="279.2" cy="519.4" r="1.45"/><circle cx="287" cy="543.3" r="1.45"/><circle cx="296.4" cy="545" r="1.45"/><circle cx="310.2" cy="423.3" r="1.45"/><circle cx="313.9" cy="538" r="1.45"/><circle cx="318" cy="535" r="1.45"/><circle cx="321.8" cy="538.5" r="1.45"/><circle cx="325.8" cy="547" r="1.45"/><circle cx="331.7" cy="536" r="1.45"/><circle cx="337.8" cy="536.3" r="1.45"/><circle cx="343.4" cy="554" r="1.45"/><circle cx="347.4" cy="552" r="1.45"/><circle cx="353.2" cy="541" r="1.45"/><circle cx="359.1" cy="537" r="1.45"/><circle cx="362.9" cy="530" r="1.45"/><circle cx="366.7" cy="544" r="1.45"/><circle cx="370.8" cy="547.7" r="1.45"/><circle cx="376.6" cy="543" r="1.45"/><circle cx="380.7" cy="547.7" r="1.45"/><circle cx="386.4" cy="526.3" r="1.45"/><circle cx="394.2" cy="533.8" r="1.45"/><circle cx="399.9" cy="513.1" r="1.45"/><circle cx="407.8" cy="545.8" r="1.45"/><circle cx="411.8" cy="545" r="1.45"/><circle cx="417.9" cy="528.8" r="1.45"/><circle cx="429.8" cy="544.5" r="1.45"/><circle cx="437.3" cy="539.2" r="1.45"/><circle cx="441.4" cy="526" r="1.45"/><circle cx="450.7" cy="423.6" r="1.45"/><circle cx="458.8" cy="550.7" r="1.45"/><circle cx="464.4" cy="554.4" r="1.45"/><circle cx="472.5" cy="494.5" r="1.45"/><circle cx="476.3" cy="456.9" r="1.45"/><circle cx="480.2" cy="513.7" r="1.45"/><circle cx="483.9" cy="537.3" r="1.45"/><circle cx="488" cy="481.4" r="1.45"/><circle cx="491.8" cy="428.8" r="1.45"/><circle cx="495.8" cy="400.5" r="1.45"/></g>
<path d="M66.3 511.6L74.2 505.2L83.7 537.6L89.7 501.5L95.6 523.1L101.5 548.9L105.4 554.2L111.3 552.4L117.2 544.3L134.7 530.3L140.4 536.7L150.2 531L158 547.7L161.7 532L167.8 516.5L175.7 529L181.6 543L185.3 541.4L191.3 510.3L195.3 537L201 524.1L212.9 507.4L222.3 341.7L226.5 405.8L230.3 532.6L235.9 537.2L239.9 493.2L244.1 500.5L248.1 463.6L251.8 437.8L255.8 514.3L259.6 465.8L263.3 500.8L267.2 516.9L271.3 524.1L275 465.2L279.2 529L287 489.2L290.7 551.4L296.4 540L300.5 546.5L304.6 514.3L310.2 417.9L313.9 536L318 530L321.8 539L325.8 501.8L331.7 531.3L337.8 506.4L343.4 541L347.4 545.8L353.2 400.7L359.1 525.7L362.9 496.1L366.7 536L370.8 542.6L376.6 513.3L380.7 547L386.4 520L390.5 562.7L394.2 487.1L399.9 503L403.9 514L407.8 528.8L411.8 531.3L417.9 491.7L421.9 565L425.9 535L429.8 540L433.6 526.3L437.3 530L441.4 520L444.8 515.8L450.7 440.9L454.8 475L458.8 558.7L464.4 443.9L468.4 540L476.3 447.6L480.2 421L483.9 429.8L488 470.6L491.8 425.4L499.7 413.8" fill="none" stroke="#00ff00" stroke-width="0.9" stroke-linejoin="round"/>
<g fill="#00ff00"><circle cx="66.3" cy="511.6" r="1.45"/><circle cx="74.2" cy="505.2" r="1.45"/><circle cx="83.7" cy="537.6" r="1.45"/><circle cx="89.7" cy="501.5" r="1.45"/><circle cx="95.6" cy="523.1" r="1.45"/><circle cx="101.5" cy="548.9" r="1.45"/><circle cx="105.4" cy="554.2" r="1.45"/><circle cx="111.3" cy="552.4" r="1.45"/><circle cx="117.2" cy="544.3" r="1.45"/><circle cx="134.7" cy="530.3" r="1.45"/><circle cx="140.4" cy="536.7" r="1.45"/><circle cx="150.2" cy="531" r="1.45"/><circle cx="158" cy="547.7" r="1.45"/><circle cx="161.7" cy="532" r="1.45"/><circle cx="167.8" cy="516.5" r="1.45"/><circle cx="175.7" cy="529" r="1.45"/><circle cx="181.6" cy="543" r="1.45"/><circle cx="185.3" cy="541.4" r="1.45"/><circle cx="191.3" cy="510.3" r="1.45"/><circle cx="195.3" cy="537" r="1.45"/><circle cx="201" cy="524.1" r="1.45"/><circle cx="212.9" cy="507.4" r="1.45"/><circle cx="222.3" cy="341.7" r="1.45"/><circle cx="226.5" cy="405.8" r="1.45"/><circle cx="230.3" cy="532.6" r="1.45"/><circle cx="235.9" cy="537.2" r="1.45"/><circle cx="239.9" cy="493.2" r="1.45"/><circle cx="244.1" cy="500.5" r="1.45"/><circle cx="248.1" cy="463.6" r="1.45"/><circle cx="251.8" cy="437.8" r="1.45"/><circle cx="255.8" cy="514.3" r="1.45"/><circle cx="259.6" cy="465.8" r="1.45"/><circle cx="263.3" cy="500.8" r="1.45"/><circle cx="267.2" cy="516.9" r="1.45"/><circle cx="271.3" cy="524.1" r="1.45"/><circle cx="275" cy="465.2" r="1.45"/><circle cx="279.2" cy="529" r="1.45"/><circle cx="287" cy="489.2" r="1.45"/><circle cx="290.7" cy="551.4" r="1.45"/><circle cx="296.4" cy="540" r="1.45"/><circle cx="300.5" cy="546.5" r="1.45"/><circle cx="304.6" cy="514.3" r="1.45"/><circle cx="310.2" cy="417.9" r="1.45"/><circle cx="313.9" cy="536" r="1.45"/><circle cx="318" cy="530" r="1.45"/><circle cx="321.8" cy="539" r="1.45"/><circle cx="325.8" cy="501.8" r="1.45"/><circle cx="331.7" cy="531.3" r="1.45"/><circle cx="337.8" cy="506.4" r="1.45"/><circle cx="343.4" cy="541" r="1.45"/><circle cx="347.4" cy="545.8" r="1.45"/><circle cx="353.2" cy="400.7" r="1.45"/><circle cx="359.1" cy="525.7" r="1.45"/><circle cx="362.9" cy="496.1" r="1.45"/><circle cx="366.7" cy="536" r="1.45"/><circle cx="370.8" cy="542.6" r="1.45"/><circle cx="376.6" cy="513.3" r="1.45"/><circle cx="380.7" cy="547" r="1.45"/><circle cx="386.4" cy="520" r="1.45"/><circle cx="390.5" cy="562.7" r="1.45"/><circle cx="394.2" cy="487.1" r="1.45"/><circle cx="399.9" cy="503" r="1.45"/><circle cx="403.9" cy="514" r="1.45"/><circle cx="407.8" cy="528.8" r="1.45"/><circle cx="411.8" cy="531.3" r="1.45"/><circle cx="417.9" cy="491.7" r="1.45"/><circle cx="421.9" cy="565" r="1.45"/><circle cx="425.9" cy="535" r="1.45"/><circle cx="429.8" cy="540" r="1.45"/><circle cx="433.6" cy="526.3" r="1.45"/><circle cx="437.3" cy="530" r="1.45"/><circle cx="441.4" cy="520" r="1.45"/><circle cx="444.8" cy="515.8" r="1.45"/><circle cx="450.7" cy="440.9" r="1.45"/><circle cx="454.8" cy="475" r="1.45"/><circle cx="458.8" cy="558.7" r="1.45"/><circle cx="464.4" cy="443.9" r="1.45"/><circle cx="468.4" cy="540" r="1.45"/><circle cx="476.3" cy="447.6" r="1.45"/><circle cx="480.2" cy="421" r="1.45"/><circle cx="483.9" cy="429.8" r="1.45"/><circle cx="488" cy="470.6" r="1.45"/><circle cx="491.8" cy="425.4" r="1.45"/><circle cx="499.7" cy="413.8" r="1.45"/></g>
<path d="M66.3 563.6L74.2 533.2L83.7 554.9L89.7 552.3L95.6 545.8L101.5 554.6L105.4 557.1L111.3 550.2L117.2 551.4L134.7 549.5L140.4 548.7L150.2 548.3L158 551.4L161.7 540.5L167.8 549.5L175.7 548.3L181.6 542.6L185.3 548.8L191.3 542.6L195.3 558.3L212.9 558.3L218.6 380.2L222.3 449.4L226.5 547.7L230.3 547.9L235.9 553.3L239.9 554.2L244.1 542.6L248.1 543.9L251.8 527.8L255.8 535L259.6 546.4L263.3 549.3L267.2 543.3L271.3 548.7L275 531.3L279.2 540.7L287 520.9L290.7 552.7L296.4 560.5L300.5 549.2L304.6 542.6L310.2 463.5L313.9 540.7L318 543.9L321.8 547L325.8 551.2L331.7 540.1L337.8 561.5L343.4 556.2L347.4 555.6L353.2 544.9L359.1 537.6L362.9 532.6L366.7 543.9L370.8 550.4L376.6 545.8L380.7 554.6L386.4 530.1L390.5 566.5L394.2 541.4L399.9 531.3L403.9 512.5L407.8 543L411.8 545.8L417.9 528.8L421.9 538L425.9 538.5L429.8 543.3L433.6 535.1L437.3 537L441.4 539.8L450.7 523.3L454.8 544.6L458.8 548.7L464.4 545.9L468.4 559.7L472.5 508.5L476.3 526.7L480.2 537L483.9 550.7L488 530.2L505.6 521" fill="none" stroke="#0000ff" stroke-width="0.9" stroke-linejoin="round"/>
<g fill="#0000ff"><circle cx="66.3" cy="563.6" r="1.45"/><circle cx="74.2" cy="533.2" r="1.45"/><circle cx="83.7" cy="554.9" r="1.45"/><circle cx="89.7" cy="552.3" r="1.45"/><circle cx="95.6" cy="545.8" r="1.45"/><circle cx="101.5" cy="554.6" r="1.45"/><circle cx="105.4" cy="557.1" r="1.45"/><circle cx="111.3" cy="550.2" r="1.45"/><circle cx="117.2" cy="551.4" r="1.45"/><circle cx="134.7" cy="549.5" r="1.45"/><circle cx="140.4" cy="548.7" r="1.45"/><circle cx="150.2" cy="548.3" r="1.45"/><circle cx="158" cy="551.4" r="1.45"/><circle cx="161.7" cy="540.5" r="1.45"/><circle cx="167.8" cy="549.5" r="1.45"/><circle cx="175.7" cy="548.3" r="1.45"/><circle cx="181.6" cy="542.6" r="1.45"/><circle cx="185.3" cy="548.8" r="1.45"/><circle cx="191.3" cy="542.6" r="1.45"/><circle cx="195.3" cy="558.3" r="1.45"/><circle cx="212.9" cy="558.3" r="1.45"/><circle cx="218.6" cy="380.2" r="1.45"/><circle cx="222.3" cy="449.4" r="1.45"/><circle cx="226.5" cy="547.7" r="1.45"/><circle cx="230.3" cy="547.9" r="1.45"/><circle cx="235.9" cy="553.3" r="1.45"/><circle cx="239.9" cy="554.2" r="1.45"/><circle cx="244.1" cy="542.6" r="1.45"/><circle cx="248.1" cy="543.9" r="1.45"/><circle cx="251.8" cy="527.8" r="1.45"/><circle cx="255.8" cy="535" r="1.45"/><circle cx="259.6" cy="546.4" r="1.45"/><circle cx="263.3" cy="549.3" r="1.45"/><circle cx="267.2" cy="543.3" r="1.45"/><circle cx="271.3" cy="548.7" r="1.45"/><circle cx="275" cy="531.3" r="1.45"/><circle cx="279.2" cy="540.7" r="1.45"/><circle cx="287" cy="520.9" r="1.45"/><circle cx="290.7" cy="552.7" r="1.45"/><circle cx="296.4" cy="560.5" r="1.45"/><circle cx="300.5" cy="549.2" r="1.45"/><circle cx="304.6" cy="542.6" r="1.45"/><circle cx="310.2" cy="463.5" r="1.45"/><circle cx="313.9" cy="540.7" r="1.45"/><circle cx="318" cy="543.9" r="1.45"/><circle cx="321.8" cy="547" r="1.45"/><circle cx="325.8" cy="551.2" r="1.45"/><circle cx="331.7" cy="540.1" r="1.45"/><circle cx="337.8" cy="561.5" r="1.45"/><circle cx="343.4" cy="556.2" r="1.45"/><circle cx="347.4" cy="555.6" r="1.45"/><circle cx="353.2" cy="544.9" r="1.45"/><circle cx="359.1" cy="537.6" r="1.45"/><circle cx="362.9" cy="532.6" r="1.45"/><circle cx="366.7" cy="543.9" r="1.45"/><circle cx="370.8" cy="550.4" r="1.45"/><circle cx="376.6" cy="545.8" r="1.45"/><circle cx="380.7" cy="554.6" r="1.45"/><circle cx="386.4" cy="530.1" r="1.45"/><circle cx="390.5" cy="566.5" r="1.45"/><circle cx="394.2" cy="541.4" r="1.45"/><circle cx="399.9" cy="531.3" r="1.45"/><circle cx="403.9" cy="512.5" r="1.45"/><circle cx="407.8" cy="543" r="1.45"/><circle cx="411.8" cy="545.8" r="1.45"/><circle cx="417.9" cy="528.8" r="1.45"/><circle cx="421.9" cy="538" r="1.45"/><circle cx="425.9" cy="538.5" r="1.45"/><circle cx="429.8" cy="543.3" r="1.45"/><circle cx="433.6" cy="535.1" r="1.45"/><circle cx="437.3" cy="537" r="1.45"/><circle cx="441.4" cy="539.8" r="1.45"/><circle cx="450.7" cy="523.3" r="1.45"/><circle cx="454.8" cy="544.6" r="1.45"/><circle cx="458.8" cy="548.7" r="1.45"/><circle cx="464.4" cy="545.9" r="1.45"/><circle cx="468.4" cy="559.7" r="1.45"/><circle cx="472.5" cy="508.5" r="1.45"/><circle cx="476.3" cy="526.7" r="1.45"/><circle cx="480.2" cy="537" r="1.45"/><circle cx="483.9" cy="550.7" r="1.45"/><circle cx="488" cy="530.2" r="1.45"/><circle cx="505.6" cy="521" r="1.45"/></g>
<path d="M66.3 531.9L74.2 527.3L83.7 542.6L89.7 530.4L95.6 541L101.5 526L105.4 542L111.3 534.7L117.2 551.2L134.7 537.6L140.4 539.2L150.2 537.8L158 541.4L175.7 543.3L181.6 523.5L185.3 483.8L191.3 526.3L195.3 538.9L201 499.9L212.9 537.2L218.6 527.5L222.3 525L226.5 492L230.3 535.7L235.9 534.8L239.9 531.3L244.1 537L248.1 538.5L251.8 537.5L255.8 526.3L263.3 537.2L267.2 523.8L271.3 537.6L275 523.5L279.2 542L287 535L296.4 537.6L300.5 486.3L304.6 526.3L310.2 529.4L313.9 534.5L318 534.5L321.8 538.2L325.8 546L331.7 531.3L337.8 525L343.4 541L347.4 540L353.2 534.5L359.1 536.3L362.9 523.1L366.7 543.9L370.8 542.6L376.6 542L380.7 530.9L386.4 531.3L390.5 536.3L394.2 540L399.9 532L403.9 497.6L407.8 499.3L411.8 526.3L417.9 525L421.9 513.7L425.9 493.9L429.8 526.9L433.6 523.5L437.3 526.3L441.4 483.6L444.8 522L450.7 468.2L454.8 509.3L458.8 531.5L464.4 519.9L468.4 535L472.5 510L476.3 497.5L480.2 459.4L483.9 495.8L488 528.5L491.8 508" fill="none" stroke="#ff00ff" stroke-width="0.9" stroke-linejoin="round"/>
<g fill="#ff00ff"><circle cx="66.3" cy="531.9" r="1.45"/><circle cx="74.2" cy="527.3" r="1.45"/><circle cx="83.7" cy="542.6" r="1.45"/><circle cx="89.7" cy="530.4" r="1.45"/><circle cx="95.6" cy="541" r="1.45"/><circle cx="101.5" cy="526" r="1.45"/><circle cx="105.4" cy="542" r="1.45"/><circle cx="111.3" cy="534.7" r="1.45"/><circle cx="117.2" cy="551.2" r="1.45"/><circle cx="134.7" cy="537.6" r="1.45"/><circle cx="140.4" cy="539.2" r="1.45"/><circle cx="150.2" cy="537.8" r="1.45"/><circle cx="158" cy="541.4" r="1.45"/><circle cx="175.7" cy="543.3" r="1.45"/><circle cx="181.6" cy="523.5" r="1.45"/><circle cx="185.3" cy="483.8" r="1.45"/><circle cx="191.3" cy="526.3" r="1.45"/><circle cx="195.3" cy="538.9" r="1.45"/><circle cx="201" cy="499.9" r="1.45"/><circle cx="212.9" cy="537.2" r="1.45"/><circle cx="218.6" cy="527.5" r="1.45"/><circle cx="222.3" cy="525" r="1.45"/><circle cx="226.5" cy="492" r="1.45"/><circle cx="230.3" cy="535.7" r="1.45"/><circle cx="235.9" cy="534.8" r="1.45"/><circle cx="239.9" cy="531.3" r="1.45"/><circle cx="244.1" cy="537" r="1.45"/><circle cx="248.1" cy="538.5" r="1.45"/><circle cx="251.8" cy="537.5" r="1.45"/><circle cx="255.8" cy="526.3" r="1.45"/><circle cx="263.3" cy="537.2" r="1.45"/><circle cx="267.2" cy="523.8" r="1.45"/><circle cx="271.3" cy="537.6" r="1.45"/><circle cx="275" cy="523.5" r="1.45"/><circle cx="279.2" cy="542" r="1.45"/><circle cx="287" cy="535" r="1.45"/><circle cx="296.4" cy="537.6" r="1.45"/><circle cx="300.5" cy="486.3" r="1.45"/><circle cx="304.6" cy="526.3" r="1.45"/><circle cx="310.2" cy="529.4" r="1.45"/><circle cx="313.9" cy="534.5" r="1.45"/><circle cx="318" cy="534.5" r="1.45"/><circle cx="321.8" cy="538.2" r="1.45"/><circle cx="325.8" cy="546" r="1.45"/><circle cx="331.7" cy="531.3" r="1.45"/><circle cx="337.8" cy="525" r="1.45"/><circle cx="343.4" cy="541" r="1.45"/><circle cx="347.4" cy="540" r="1.45"/><circle cx="353.2" cy="534.5" r="1.45"/><circle cx="359.1" cy="536.3" r="1.45"/><circle cx="362.9" cy="523.1" r="1.45"/><circle cx="366.7" cy="543.9" r="1.45"/><circle cx="370.8" cy="542.6" r="1.45"/><circle cx="376.6" cy="542" r="1.45"/><circle cx="380.7" cy="530.9" r="1.45"/><circle cx="386.4" cy="531.3" r="1.45"/><circle cx="390.5" cy="536.3" r="1.45"/><circle cx="394.2" cy="540" r="1.45"/><circle cx="399.9" cy="532" r="1.45"/><circle cx="403.9" cy="497.6" r="1.45"/><circle cx="407.8" cy="499.3" r="1.45"/><circle cx="411.8" cy="526.3" r="1.45"/><circle cx="417.9" cy="525" r="1.45"/><circle cx="421.9" cy="513.7" r="1.45"/><circle cx="425.9" cy="493.9" r="1.45"/><circle cx="429.8" cy="526.9" r="1.45"/><circle cx="433.6" cy="523.5" r="1.45"/><circle cx="437.3" cy="526.3" r="1.45"/><circle cx="441.4" cy="483.6" r="1.45"/><circle cx="444.8" cy="522" r="1.45"/><circle cx="450.7" cy="468.2" r="1.45"/><circle cx="454.8" cy="509.3" r="1.45"/><circle cx="458.8" cy="531.5" r="1.45"/><circle cx="464.4" cy="519.9" r="1.45"/><circle cx="468.4" cy="535" r="1.45"/><circle cx="472.5" cy="510" r="1.45"/><circle cx="476.3" cy="497.5" r="1.45"/><circle cx="480.2" cy="459.4" r="1.45"/><circle cx="483.9" cy="495.8" r="1.45"/><circle cx="488" cy="528.5" r="1.45"/><circle cx="491.8" cy="508" r="1.45"/></g>
<path d="M66.3 537.6L74.2 544.3L83.7 547.4L89.7 548.9L95.6 543.9L101.5 537.2L105.4 548.3L111.3 544.5L117.2 557.1L134.7 537.2L140.4 547.9L150.2 532.6L158 533.2L161.7 534.5L167.8 534.5L175.7 535.7L181.6 535.1L185.3 519.4L191.3 530.9L195.3 544.5L201 532.2L212.9 550.8L218.6 550.2L222.3 525L226.5 542.6L230.3 543.3L235.9 543.9L239.9 540.1L244.1 537.2L248.1 538.9L251.8 537.6L255.8 532.6L259.6 546.4L263.3 541.4L267.2 538.5L271.3 540.7L275 531.9L279.2 533.8L287 536.3L290.7 540.1L296.4 544.5L300.5 518.7L304.6 528.8L310.2 520.6L313.9 534.5L318 534.5L321.8 538.2L325.8 547.7L331.7 535.1L337.8 535.1L343.4 544.5L347.4 540.1L353.2 534.5L359.1 536.3L362.9 528.8L366.7 543.9L370.8 542.6L376.6 542L380.7 541.4L386.4 533.8L390.5 548.9L394.2 540.1L399.9 531.9L403.9 506.2L407.8 523.1L411.8 534.5L417.9 524.4L421.9 520L425.9 529.4L429.8 535.1L433.6 533.2L437.3 531.3L441.4 516.4L444.8 532.2L450.7 528.1L454.8 539.1L458.8 543.2L464.4 531.5L468.4 548L472.5 519.9L476.3 520.6L480.2 518.5L483.9 526.1L488 545.5L491.8 523.3" fill="none" stroke="#ff0000" stroke-width="1.7" stroke-linejoin="round"/>
<path d="M62.4 537.6L70.2 537.6M63.68 534.98L68.92 540.22M66.3 533.7L66.3 541.5M68.92 534.98L63.68 540.22M70.3 544.3L78.1 544.3M71.58 541.68L76.82 546.92M74.2 540.4L74.2 548.2M76.82 541.68L71.58 546.92M79.8 547.4L87.6 547.4M81.08 544.78L86.32 550.02M83.7 543.5L83.7 551.3M86.32 544.78L81.08 550.02M85.8 548.9L93.6 548.9M87.08 546.28L92.32 551.52M89.7 545L89.7 552.8M92.32 546.28L87.08 551.52M91.7 543.9L99.5 543.9M92.98 541.28L98.22 546.52M95.6 540L95.6 547.8M98.22 541.28L92.98 546.52M97.6 537.2L105.4 537.2M98.88 534.58L104.12 539.82M101.5 533.3L101.5 541.1M104.12 534.58L98.88 539.82M101.5 548.3L109.3 548.3M102.78 545.68L108.02 550.92M105.4 544.4L105.4 552.2M108.02 545.68L102.78 550.92M107.4 544.5L115.2 544.5M108.68 541.88L113.92 547.12M111.3 540.6L111.3 548.4M113.92 541.88L108.68 547.12M113.3 557.1L121.1 557.1M114.58 554.48L119.82 559.72M117.2 553.2L117.2 561M119.82 554.48L114.58 559.72M130.8 537.2L138.6 537.2M132.08 534.58L137.32 539.82M134.7 533.3L134.7 541.1M137.32 534.58L132.08 539.82M136.5 547.9L144.3 547.9M137.78 545.28L143.02 550.52M140.4 544L140.4 551.8M143.02 545.28L137.78 550.52M146.3 532.6L154.1 532.6M147.58 529.98L152.82 535.22M150.2 528.7L150.2 536.5M152.82 529.98L147.58 535.22M154.1 533.2L161.9 533.2M155.38 530.58L160.62 535.82M158 529.3L158 537.1M160.62 530.58L155.38 535.82M157.8 534.5L165.6 534.5M159.08 531.88L164.32 537.12M161.7 530.6L161.7 538.4M164.32 531.88L159.08 537.12M163.9 534.5L171.7 534.5M165.18 531.88L170.42 537.12M167.8 530.6L167.8 538.4M170.42 531.88L165.18 537.12M171.8 535.7L179.6 535.7M173.08 533.08L178.32 538.32M175.7 531.8L175.7 539.6M178.32 533.08L173.08 538.32M177.7 535.1L185.5 535.1M178.98 532.48L184.22 537.72M181.6 531.2L181.6 539M184.22 532.48L178.98 537.72M181.4 519.4L189.2 519.4M182.68 516.78L187.92 522.02M185.3 515.5L185.3 523.3M187.92 516.78L182.68 522.02M187.4 530.9L195.2 530.9M188.68 528.28L193.92 533.52M191.3 527L191.3 534.8M193.92 528.28L188.68 533.52M191.4 544.5L199.2 544.5M192.68 541.88L197.92 547.12M195.3 540.6L195.3 548.4M197.92 541.88L192.68 547.12M197.1 532.2L204.9 532.2M198.38 529.58L203.62 534.82M201 528.3L201 536.1M203.62 529.58L198.38 534.82M209 550.8L216.8 550.8M210.28 548.18L215.52 553.42M212.9 546.9L212.9 554.7M215.52 548.18L210.28 553.42M214.7 550.2L222.5 550.2M215.98 547.58L221.22 552.82M218.6 546.3L218.6 554.1M221.22 547.58L215.98 552.82M218.4 525L226.2 525M219.68 522.38L224.92 527.62M222.3 521.1L222.3 528.9M224.92 522.38L219.68 527.62M222.6 542.6L230.4 542.6M223.88 539.98L229.12 545.22M226.5 538.7L226.5 546.5M229.12 539.98L223.88 545.22M226.4 543.3L234.2 543.3M227.68 540.68L232.92 545.92M230.3 539.4L230.3 547.2M232.92 540.68L227.68 545.92M232 543.9L239.8 543.9M233.28 541.28L238.52 546.52M235.9 540L235.9 547.8M238.52 541.28L233.28 546.52M236 540.1L243.8 540.1M237.28 537.48L242.52 542.72M239.9 536.2L239.9 544M242.52 537.48L237.28 542.72M240.2 537.2L248 537.2M241.48 534.58L246.72 539.82M244.1 533.3L244.1 541.1M246.72 534.58L241.48 539.82M244.2 538.9L252 538.9M245.48 536.28L250.72 541.52M248.1 535L248.1 542.8M250.72 536.28L245.48 541.52M247.9 537.6L255.7 537.6M249.18 534.98L254.42 540.22M251.8 533.7L251.8 541.5M254.42 534.98L249.18 540.22M251.9 532.6L259.7 532.6M253.18 529.98L258.42 535.22M255.8 528.7L255.8 536.5M258.42 529.98L253.18 535.22M255.7 546.4L263.5 546.4M256.98 543.78L262.22 549.02M259.6 542.5L259.6 550.3M262.22 543.78L256.98 549.02M259.4 541.4L267.2 541.4M260.68 538.78L265.92 544.02M263.3 537.5L263.3 545.3M265.92 538.78L260.68 544.02M263.3 538.5L271.1 538.5M264.58 535.88L269.82 541.12M267.2 534.6L267.2 542.4M269.82 535.88L264.58 541.12M267.4 540.7L275.2 540.7M268.68 538.08L273.92 543.32M271.3 536.8L271.3 544.6M273.92 538.08L268.68 543.32M271.1 531.9L278.9 531.9M272.38 529.28L277.62 534.52M275 528L275 535.8M277.62 529.28L272.38 534.52M275.3 533.8L283.1 533.8M276.58 531.18L281.82 536.42M279.2 529.9L279.2 537.7M281.82 531.18L276.58 536.42M283.1 536.3L290.9 536.3M284.38 533.68L289.62 538.92M287 532.4L287 540.2M289.62 533.68L284.38 538.92M286.8 540.1L294.6 540.1M288.08 537.48L293.32 542.72M290.7 536.2L290.7 544M293.32 537.48L288.08 542.72M292.5 544.5L300.3 544.5M293.78 541.88L299.02 547.12M296.4 540.6L296.4 548.4M299.02 541.88L293.78 547.12M296.6 518.7L304.4 518.7M297.88 516.08L303.12 521.32M300.5 514.8L300.5 522.6M303.12 516.08L297.88 521.32M300.7 528.8L308.5 528.8M301.98 526.18L307.22 531.42M304.6 524.9L304.6 532.7M307.22 526.18L301.98 531.42M306.3 520.6L314.1 520.6M307.58 517.98L312.82 523.22M310.2 516.7L310.2 524.5M312.82 517.98L307.58 523.22M310 534.5L317.8 534.5M311.28 531.88L316.52 537.12M313.9 530.6L313.9 538.4M316.52 531.88L311.28 537.12M314.1 534.5L321.9 534.5M315.38 531.88L320.62 537.12M318 530.6L318 538.4M320.62 531.88L315.38 537.12M317.9 538.2L325.7 538.2M319.18 535.58L324.42 540.82M321.8 534.3L321.8 542.1M324.42 535.58L319.18 540.82M321.9 547.7L329.7 547.7M323.18 545.08L328.42 550.32M325.8 543.8L325.8 551.6M328.42 545.08L323.18 550.32M327.8 535.1L335.6 535.1M329.08 532.48L334.32 537.72M331.7 531.2L331.7 539M334.32 532.48L329.08 537.72M333.9 535.1L341.7 535.1M335.18 532.48L340.42 537.72M337.8 531.2L337.8 539M340.42 532.48L335.18 537.72M339.5 544.5L347.3 544.5M340.78 541.88L346.02 547.12M343.4 540.6L343.4 548.4M346.02 541.88L340.78 547.12M343.5 540.1L351.3 540.1M344.78 537.48L350.02 542.72M347.4 536.2L347.4 544M350.02 537.48L344.78 542.72M349.3 534.5L357.1 534.5M350.58 531.88L355.82 537.12M353.2 530.6L353.2 538.4M355.82 531.88L350.58 537.12M355.2 536.3L363 536.3M356.48 533.68L361.72 538.92M359.1 532.4L359.1 540.2M361.72 533.68L356.48 538.92M359 528.8L366.8 528.8M360.28 526.18L365.52 531.42M362.9 524.9L362.9 532.7M365.52 526.18L360.28 531.42M362.8 543.9L370.6 543.9M364.08 541.28L369.32 546.52M366.7 540L366.7 547.8M369.32 541.28L364.08 546.52M366.9 542.6L374.7 542.6M368.18 539.98L373.42 545.22M370.8 538.7L370.8 546.5M373.42 539.98L368.18 545.22M372.7 542L380.5 542M373.98 539.38L379.22 544.62M376.6 538.1L376.6 545.9M379.22 539.38L373.98 544.62M376.8 541.4L384.6 541.4M378.08 538.78L383.32 544.02M380.7 537.5L380.7 545.3M383.32 538.78L378.08 544.02M382.5 533.8L390.3 533.8M383.78 531.18L389.02 536.42M386.4 529.9L386.4 537.7M389.02 531.18L383.78 536.42M386.6 548.9L394.4 548.9M387.88 546.28L393.12 551.52M390.5 545L390.5 552.8M393.12 546.28L387.88 551.52M390.3 540.1L398.1 540.1M391.58 537.48L396.82 542.72M394.2 536.2L394.2 544M396.82 537.48L391.58 542.72M396 531.9L403.8 531.9M397.28 529.28L402.52 534.52M399.9 528L399.9 535.8M402.52 529.28L397.28 534.52M400 506.2L407.8 506.2M401.28 503.58L406.52 508.82M403.9 502.3L403.9 510.1M406.52 503.58L401.28 508.82M403.9 523.1L411.7 523.1M405.18 520.48L410.42 525.72M407.8 519.2L407.8 527M410.42 520.48L405.18 525.72M407.9 534.5L415.7 534.5M409.18 531.88L414.42 537.12M411.8 530.6L411.8 538.4M414.42 531.88L409.18 537.12M414 524.4L421.8 524.4M415.28 521.78L420.52 527.02M417.9 520.5L417.9 528.3M420.52 521.78L415.28 527.02M418 520L425.8 520M419.28 517.38L424.52 522.62M421.9 516.1L421.9 523.9M424.52 517.38L419.28 522.62M422 529.4L429.8 529.4M423.28 526.78L428.52 532.02M425.9 525.5L425.9 533.3M428.52 526.78L423.28 532.02M425.9 535.1L433.7 535.1M427.18 532.48L432.42 537.72M429.8 531.2L429.8 539M432.42 532.48L427.18 537.72M429.7 533.2L437.5 533.2M430.98 530.58L436.22 535.82M433.6 529.3L433.6 537.1M436.22 530.58L430.98 535.82M433.4 531.3L441.2 531.3M434.68 528.68L439.92 533.92M437.3 527.4L437.3 535.2M439.92 528.68L434.68 533.92M437.5 516.4L445.3 516.4M438.78 513.78L444.02 519.02M441.4 512.5L441.4 520.3M444.02 513.78L438.78 519.02M440.9 532.2L448.7 532.2M442.18 529.58L447.42 534.82M444.8 528.3L444.8 536.1M447.42 529.58L442.18 534.82M446.8 528.1L454.6 528.1M448.08 525.48L453.32 530.72M450.7 524.2L450.7 532M453.32 525.48L448.08 530.72M450.9 539.1L458.7 539.1M452.18 536.48L457.42 541.72M454.8 535.2L454.8 543M457.42 536.48L452.18 541.72M454.9 543.2L462.7 543.2M456.18 540.58L461.42 545.82M458.8 539.3L458.8 547.1M461.42 540.58L456.18 545.82M460.5 531.5L468.3 531.5M461.78 528.88L467.02 534.12M464.4 527.6L464.4 535.4M467.02 528.88L461.78 534.12M464.5 548L472.3 548M465.78 545.38L471.02 550.62M468.4 544.1L468.4 551.9M471.02 545.38L465.78 550.62M468.6 519.9L476.4 519.9M469.88 517.28L475.12 522.52M472.5 516L472.5 523.8M475.12 517.28L469.88 522.52M472.4 520.6L480.2 520.6M473.68 517.98L478.92 523.22M476.3 516.7L476.3 524.5M478.92 517.98L473.68 523.22M476.3 518.5L484.1 518.5M477.58 515.88L482.82 521.12M480.2 514.6L480.2 522.4M482.82 515.88L477.58 521.12M480 526.1L487.8 526.1M481.28 523.48L486.52 528.72M483.9 522.2L483.9 530M486.52 523.48L481.28 528.72M484.1 545.5L491.9 545.5M485.38 542.88L490.62 548.12M488 541.6L488 549.4M490.62 542.88L485.38 548.12M487.9 523.3L495.7 523.3M489.18 520.68L494.42 525.92M491.8 519.4L491.8 527.2M494.42 520.68L489.18 525.92" fill="none" stroke="#ff0000" stroke-width="1.3"/>
</g>
<path d="M58.95 334.75H508.6V616.45H58.95ZM115.16 616.45v-5.2M115.16 334.75v5.2M171.36 616.45v-5.2M171.36 334.75v5.2M227.57 616.45v-5.2M227.57 334.75v5.2M283.77 616.45v-5.2M283.77 334.75v5.2M339.98 616.45v-5.2M339.98 334.75v5.2M396.19 616.45v-5.2M396.19 334.75v5.2M452.39 616.45v-5.2M452.39 334.75v5.2M58.95 522.55h5.2M508.6 522.55h-5.2M58.95 428.65h5.2M508.6 428.65h-5.2" stroke="#262626" stroke-width="0.7" fill="none"/>
<g font-family='"Liberation Sans", Arial, Helvetica, sans-serif' font-size="13.8" fill="#262626" stroke="#262626" stroke-width="0.25">
<text x="58.55" y="636.85" text-anchor="middle">24.58</text>
<text x="114.76" y="636.85" text-anchor="middle">24.6</text>
<text x="170.96" y="636.85" text-anchor="middle">24.62</text>
<text x="227.17" y="636.85" text-anchor="middle">24.64</text>
<text x="283.37" y="636.85" text-anchor="middle">24.66</text>
<text x="339.58" y="636.85" text-anchor="middle">24.68</text>
<text x="395.79" y="636.85" text-anchor="middle">24.7</text>
<text x="451.99" y="636.85" text-anchor="middle">24.72</text>
<text x="508.2" y="636.85" text-anchor="middle">24.74</text>
<text x="53.15" y="622.3" text-anchor="end">0</text>
<text x="53.15" y="528.4" text-anchor="end">0.05</text>
<text x="53.15" y="434.5" text-anchor="end">0.1</text>
<text x="53.15" y="340.6" text-anchor="end">0.15</text>
</g>
<text x="283.78" y="657.1" text-anchor="middle" font-family='"Liberation Sans", Arial, Helvetica, sans-serif' font-size="15.2" fill="#262626" stroke="#262626" stroke-width="0.25">Time in Day (Aug.2006)</text>
<g font-family='"Liberation Sans", Arial, Helvetica, sans-serif' fill="#262626" stroke="#262626" stroke-width="0.2">
<text transform="translate(12.7 513.45) rotate(-90)" font-size="12.3" font-style="italic" stroke="none">σ</text>
<text transform="translate(20 504.65) rotate(-90)" font-size="12.1">ref-stars</text>
<text transform="translate(12.2 453.95) rotate(-90)" font-size="15.2">(&quot;)</text>
</g>
<rect x="85.5" y="667.5" width="386.5" height="101" fill="#fff" stroke="#262626" stroke-width="0.7"/>
<path d="M89.8 677.2H120.3" stroke="#000000" stroke-width="0.9"/>
<circle cx="105" cy="677.2" r="1.45" fill="#000000"/>
<text x="124.1" y="682.2" font-family='"Liberation Sans", Arial, Helvetica, sans-serif' font-size="12.4" fill="#000" stroke="#000" stroke-width="0.3">No preprocessing+Modified Moment</text>
<path d="M89.8 693.56H120.3" stroke="#00ffff" stroke-width="0.9"/>
<circle cx="105" cy="693.56" r="1.45" fill="#00ffff"/>
<text x="124.1" y="698.56" font-family='"Liberation Sans", Arial, Helvetica, sans-serif' font-size="12.4" fill="#000" stroke="#000" stroke-width="0.3">No preprocessing+Intensity square weighted centroiding</text>
<path d="M89.8 709.92H120.3" stroke="#00ff00" stroke-width="0.9"/>
<circle cx="105" cy="709.92" r="1.45" fill="#00ff00"/>
<text x="124.1" y="714.92" font-family='"Liberation Sans", Arial, Helvetica, sans-serif' font-size="12.4" fill="#000" stroke="#000" stroke-width="0.3">Bias/Dark/Flat+Modified Moment</text>
<path d="M89.8 726.28H120.3" stroke="#0000ff" stroke-width="0.9"/>
<circle cx="105" cy="726.28" r="1.45" fill="#0000ff"/>
<text x="124.1" y="731.28" font-family='"Liberation Sans", Arial, Helvetica, sans-serif' font-size="12.4" fill="#000" stroke="#000" stroke-width="0.3">Bias/Dark/Flat+Intensity square weighted centroiding</text>
<path d="M89.8 742.64H120.3" stroke="#ff00ff" stroke-width="0.9"/>
<circle cx="105" cy="742.64" r="1.45" fill="#ff00ff"/>
<text x="124.1" y="747.64" font-family='"Liberation Sans", Arial, Helvetica, sans-serif' font-size="12.4" fill="#000" stroke="#000" stroke-width="0.3">Subtracting background+Modified Moment</text>
<path d="M89.8 759H120.3" stroke="#ff0000" stroke-width="1.7"/>
<path d="M101.1 759L108.9 759M102.38 756.38L107.62 761.62M105 755.1L105 762.9M107.62 756.38L102.38 761.62" stroke="#ff0000" stroke-width="1.3" fill="none"/>
<text x="124.1" y="764" font-family='"Liberation Sans", Arial, Helvetica, sans-serif' font-size="12.4" fill="#000" stroke="#000" stroke-width="0.3">Subtracting background+Intensity square weighted centroiding</text>
</svg></body></html>
